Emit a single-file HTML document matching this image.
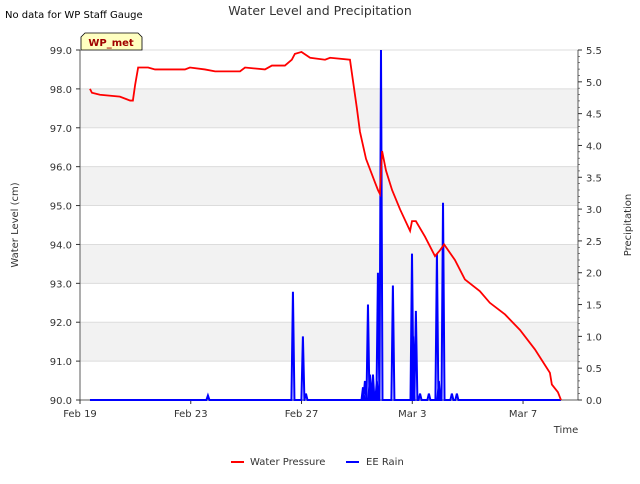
<!DOCTYPE html>
<html><head><meta charset="utf-8"><style>
body{margin:0;background:#fff;font-family:"DejaVu Sans","Liberation Sans",sans-serif;}
</style></head><body>
<svg id="c" width="640" height="480" xmlns="http://www.w3.org/2000/svg" font-family="DejaVu Sans, Liberation Sans, sans-serif">
<text x="5" y="18" font-size="10" fill="#000">No data for WP Staff Gauge</text>
<text x="320" y="15" font-size="12.5" text-anchor="middle" fill="#333">Water Level and Precipitation</text>
<g id="plot"></g>
<g>
<path d="M81,50 L81,37 L85,33 L138,33 L142,37 L142,50 Z" fill="#ffffc0" stroke="#000" stroke-width="0.8"/>
<text x="111" y="46" font-size="10" font-weight="bold" fill="#a00000" text-anchor="middle">WP_met</text>
</g>
<text transform="translate(18,225) rotate(-90)" font-size="10" text-anchor="middle" fill="#333">Water Level (cm)</text>
<text transform="translate(631,225) rotate(-90)" font-size="10" text-anchor="middle" fill="#333">Precipitation</text>
<text x="566" y="433" font-size="10" text-anchor="middle" fill="#333">Time</text>
<g>
<line x1="231" y1="462" x2="244" y2="462" stroke="red" stroke-width="2"/>
<text x="250" y="465" font-size="10" fill="#333">Water Pressure</text>
<line x1="346" y1="462" x2="359" y2="462" stroke="blue" stroke-width="2"/>
<text x="366" y="465" font-size="10" fill="#333">EE Rain</text>
</g>
</svg>
<script>
const xTickLabels=["Feb 19","Feb 23","Feb 27","Mar 3","Mar 7"];
const xTickDays=[0,4,8,12,16];
const yTicks=[90,91,92,93,94,95,96,97,98,99];
const y2Ticks=[0,0.5,1,1.5,2,2.5,3,3.5,4,4.5,5,5.5];
const levelDays=[0.36,0.43,0.72,1.44,1.81,1.91,1.99,2.1,2.46,2.71,3.07,3.79,3.97,4.51,4.88,5.78,5.96,6.68,6.93,7.4,7.65,7.76,8.0,8.31,8.85,9.03,9.75,9.82,10.0,10.11,10.33,10.65,10.76,10.83,10.91,11.05,11.27,11.56,11.92,11.99,12.13,12.46,12.82,13.0,13.15,13.54,13.9,14.44,14.8,15.35,15.89,16.43,16.79,16.97,17.04,17.26,17.37];
const levelValues=[98.0,97.9,97.85,97.8,97.7,97.7,98.1,98.55,98.55,98.5,98.5,98.5,98.55,98.5,98.45,98.45,98.55,98.5,98.6,98.6,98.75,98.9,98.95,98.8,98.75,98.8,98.75,98.4,97.5,96.9,96.2,95.6,95.4,95.3,96.4,95.9,95.4,94.9,94.35,94.6,94.6,94.2,93.7,93.85,94.0,93.6,93.1,92.8,92.5,92.2,91.8,91.3,90.9,90.7,90.4,90.2,90.0];
const rainDays=[4.62,7.69,8.05,8.16,10.22,10.29,10.40,10.47,10.54,10.58,10.65,10.72,10.76,10.87,11.3,11.99,12.03,12.13,12.28,12.6,12.89,12.96,13.11,13.43,13.61];
const rainValues=[0.07,1.7,1.0,0.1,0.2,0.3,1.5,0.4,0.2,0.4,0.1,0.3,2.0,5.5,1.8,2.3,1.0,1.4,0.1,0.1,2.3,0.3,3.1,0.1,0.1];
const L=80,R=578,T=50,B=400,PX=27.69;
const xs=d=>L+d*PX, ys=v=>B-(v-90)*(B-T)/9, ys2=v=>B-v*(B-T)/5.5;
const g=document.getElementById('plot'),NS='http://www.w3.org/2000/svg';
function mk(t,a){const e=document.createElementNS(NS,t);for(const k in a)e.setAttribute(k,a[k]);g.appendChild(e);return e;}
for(let i=0;i<yTicks.length-1;i++){if(yTicks[i]%2===1){const r=mk('rect',{x:L,y:ys(yTicks[i]+1),width:R-L,height:ys(yTicks[i])-ys(yTicks[i]+1),fill:'#f2f2f2'});

}}
yTicks.forEach(v=>{const l=mk('line',{x1:L,x2:R,y1:ys(v),y2:ys(v),stroke:'#dcdcdc','stroke-width':1});


const t=mk('text',{x:L-8,y:ys(v)+4,'font-size':10,'text-anchor':'end',fill:'#333'});t.textContent=v.toFixed(1);


mk('line',{x1:L-4,x2:L,y1:ys(v),y2:ys(v),stroke:'#333'});});
y2Ticks.forEach(v=>{const t=mk('text',{x:R+8,y:ys2(v)+4,'font-size':10,fill:'#333'});t.textContent=v.toFixed(1);


mk('line',{x1:R,x2:R+4,y1:ys2(v),y2:ys2(v),stroke:'#333'});});
for(let v=0.1;v<5.5;v+=0.1)mk('line',{x1:R,x2:R+2,y1:ys2(v),y2:ys2(v),stroke:'#333','stroke-width':0.6});
xTickDays.forEach((d,i)=>{mk('line',{x1:xs(d),x2:xs(d),y1:B,y2:B+4,stroke:'#333'});
const t=mk('text',{x:xs(d),y:B+17,'font-size':10,'text-anchor':'middle',fill:'#333'});t.textContent=xTickLabels[i];

});
const ax=mk('path',{d:`M${L},${T}V${B}H${R}V${T}`,fill:'none',stroke:'#333','stroke-width':0.8});


let rd=`M${xs(0.36)},${ys2(0)}`;
rainDays.forEach((d,i)=>{rd+=`L${xs(d)-1.5},${ys2(0)}L${xs(d)},${ys2(rainValues[i])}L${xs(d)+1.5},${ys2(0)}`;});
rd+=`L${xs(17.37)},${ys2(0)}`;
const rp=mk('path',{d:rd,fill:'none',stroke:'blue','stroke-width':2});


const lp=mk('path',{d:'M'+levelDays.map((d,i)=>xs(d)+','+ys(levelValues[i])).join('L'),fill:'none',stroke:'red','stroke-width':1.8});


</script>
</body></html>
